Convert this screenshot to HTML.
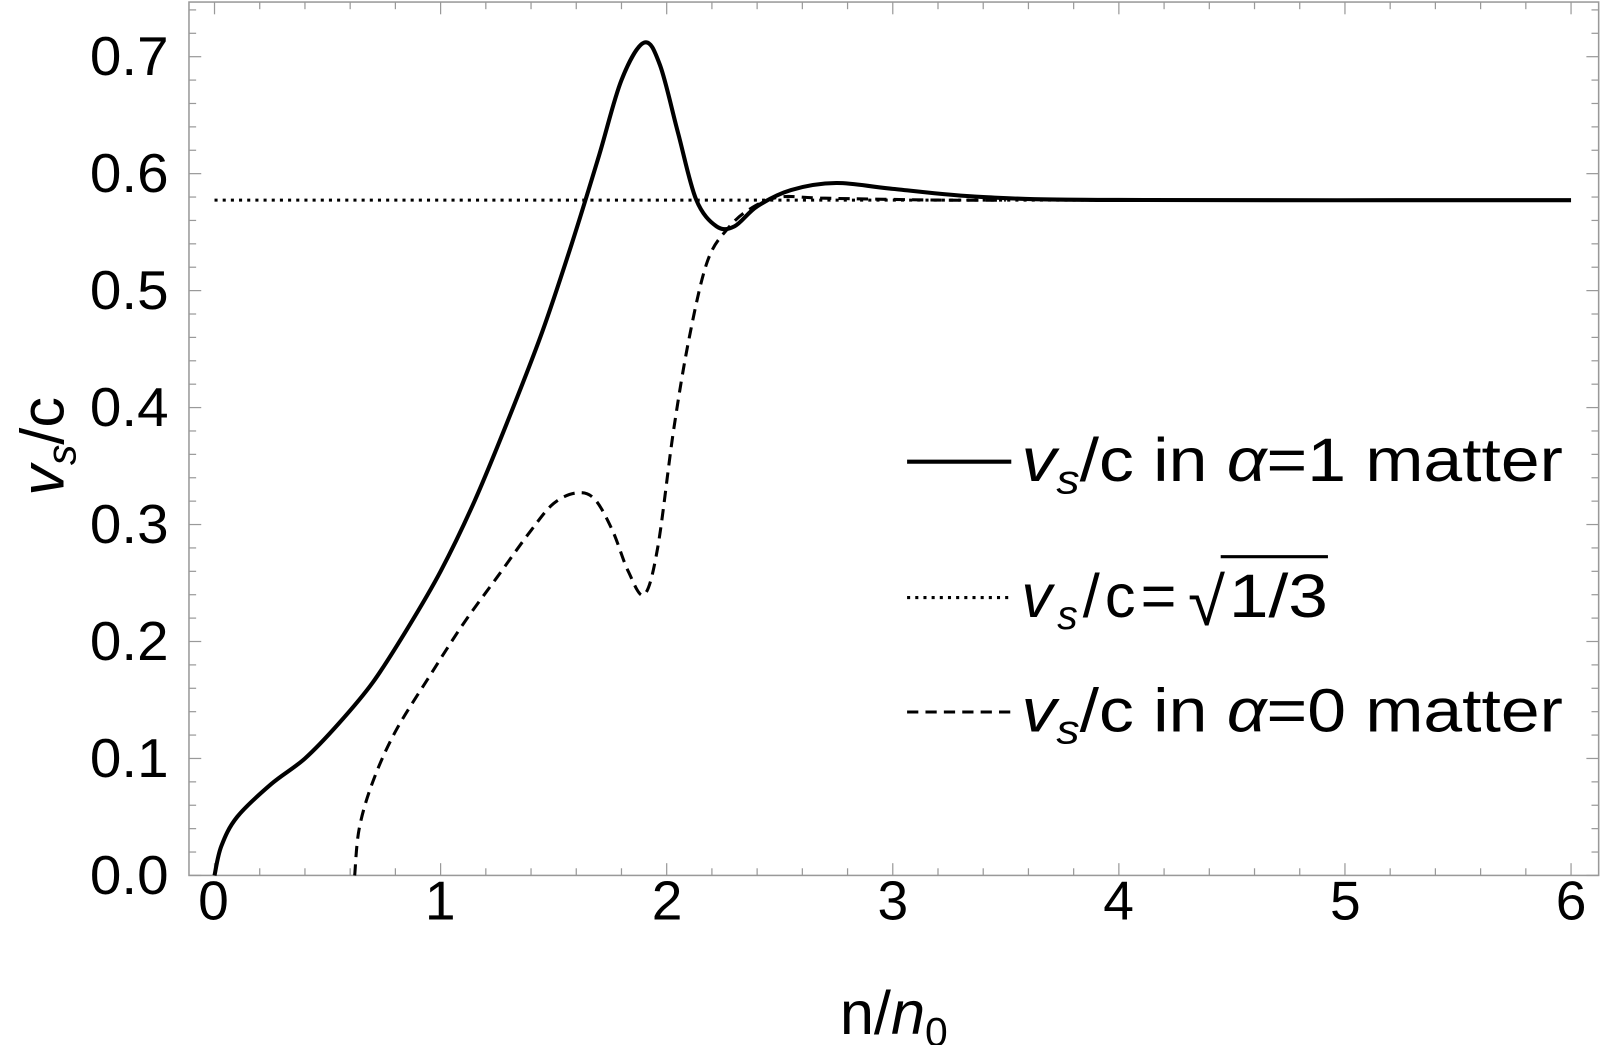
<!DOCTYPE html>
<html><head><style>
body{margin:0;background:#fff}
text{font-family:"Liberation Sans",Arial,sans-serif;fill:#000}
</style></head><body>
<svg width="1600" height="1045" xmlns="http://www.w3.org/2000/svg">
<g transform="scale(1.0215)">
<rect x="185" y="2" width="1380" height="855" fill="none" stroke="#999" stroke-width="1.5"/>
<g id="ticks" stroke="#999" stroke-width="1.2"></g>
<g id="ylab" font-size="54" text-anchor="end"></g>
<g font-size="54" text-anchor="middle">
<text x="209" y="900">0</text><text x="431" y="900">1</text><text x="653" y="900">2</text><text x="874" y="900">3</text><text x="1095" y="900">4</text><text x="1317" y="900">5</text><text x="1538" y="900">6</text>
</g>
<text x="875" y="1012" font-size="60" text-anchor="middle">n/<tspan font-style="italic">n</tspan><tspan font-size="40" dy="12">0</tspan></text>
<text transform="translate(62,437) rotate(-90)" font-size="60" text-anchor="middle"><tspan font-style="italic">v</tspan><tspan font-style="italic" font-size="40" dy="12">s</tspan><tspan dy="-12">/c</tspan></text>
<line id="dot" x1="210" y1="196" x2="1538" y2="196" stroke="#000" stroke-width="3" stroke-dasharray="3,5"/>
<path id="p1" fill="none" stroke="#000" stroke-width="4"/>
<path id="p2" fill="none" stroke="#000" stroke-width="3" stroke-dasharray="11,7"/>
<line x1="888" y1="452" x2="990" y2="452" stroke="#000" stroke-width="4"/>
<line x1="888" y1="585" x2="990" y2="585" stroke="#000" stroke-width="3" stroke-dasharray="3,5"/>
<line x1="888" y1="697" x2="990" y2="697" stroke="#000" stroke-width="3" stroke-dasharray="11,7"/>
<g font-size="60">
<text x="1000" y="471" textLength="530" lengthAdjust="spacingAndGlyphs"><tspan font-style="italic">v</tspan><tspan font-style="italic" font-size="40" dy="12">s</tspan><tspan dy="-12">/c in </tspan><tspan font-style="italic">α</tspan>=1 matter</text>
<text x="1000" y="604" letter-spacing="5"><tspan font-style="italic">v</tspan><tspan font-style="italic" font-size="40" dy="12">s</tspan><tspan dy="-12">/c=</tspan></text>
<text x="1163" y="612" font-size="66">√</text>
<text x="1203" y="604" textLength="97" lengthAdjust="spacingAndGlyphs">1/3</text>
<text x="1000" y="716" textLength="530" lengthAdjust="spacingAndGlyphs"><tspan font-style="italic">v</tspan><tspan font-style="italic" font-size="40" dy="12">s</tspan><tspan dy="-12">/c in </tspan><tspan font-style="italic">α</tspan>=0 matter</text>
</g>
<line x1="1195" y1="545" x2="1300" y2="545" stroke="#000" stroke-width="3"/>
</g>
</svg>
<script>
function X(x){return 210+221.33*x}function Y(v){return 857-1145*v}
var t='';
for(var i=0;i<=30;i++){var x=X(i*0.2);var L=i%5==0?12:7;t+='<line x1="'+x+'" y1="857" x2="'+x+'" y2="'+(857-L)+'"/><line x1="'+x+'" y1="2" x2="'+x+'" y2="'+(2+L)+'"/>';}
for(var j=0;j<=37;j++){var y=Y(j*0.02);if(y<2)break;var L=j%5==0?12:7;t+='<line x1="185" y1="'+y+'" x2="'+(185+L)+'" y2="'+y+'"/><line x1="1565" y1="'+y+'" x2="'+(1565-L)+'" y2="'+y+'"/>';}
document.getElementById('ticks').innerHTML=t;
var yl='';for(var k=0;k<=7;k++){yl+='<text x="165" y="'+(Y(k/10)+18)+'" textLength="77" lengthAdjust="spacingAndGlyphs">0.'+k+'</text>';}
document.getElementById('ylab').innerHTML=yl;
var dy=Y(0.57735);var dl=document.getElementById('dot');dl.setAttribute('y1',dy);dl.setAttribute('y2',dy);
function path(pts){var p=pts.map(function(a){return[X(a[0]),Y(a[1])]});var d='M'+p[0][0]+','+p[0][1];
for(var i=0;i<p.length-1;i++){var p0=p[i-1]||p[i],p1=p[i],p2=p[i+1],p3=p[i+2]||p2;
d+=' C'+(p1[0]+(p2[0]-p0[0])/6)+','+(p1[1]+(p2[1]-p0[1])/6)+' '+(p2[0]-(p3[0]-p1[0])/6)+','+(p2[1]-(p3[1]-p1[1])/6)+' '+p2[0]+','+p2[1];}return d;}
var s1=[[0,0],[0.03,0.025],[0.1,0.05],[0.25,0.078],[0.4,0.1],[0.55,0.13],[0.7,0.165],[0.85,0.21],[1.0,0.26],[1.15,0.32],[1.3,0.39],[1.45,0.465],[1.58,0.54],[1.7,0.615],[1.8,0.68],[1.9,0.712],[1.97,0.693],[2.05,0.635],[2.13,0.578],[2.22,0.555],[2.3,0.555],[2.4,0.572],[2.55,0.586],[2.75,0.592],[3.0,0.587],[3.4,0.58],[4.0,0.5775],[6,0.57735]];
var s2=[[0.62,0],[0.64,0.04],[0.7,0.08],[0.8,0.123],[0.95,0.17],[1.1,0.215],[1.25,0.255],[1.4,0.295],[1.5,0.318],[1.6,0.327],[1.68,0.322],[1.76,0.295],[1.83,0.26],[1.9,0.24],[1.96,0.28],[2.03,0.38],[2.1,0.46],[2.18,0.525],[2.27,0.553],[2.37,0.57],[2.5,0.58],[2.7,0.579],[3.2,0.5774],[3.5,0.57735]];
document.getElementById('p1').setAttribute('d',path(s1));
document.getElementById('p2').setAttribute('d',path(s2));
</script>
</body></html>
